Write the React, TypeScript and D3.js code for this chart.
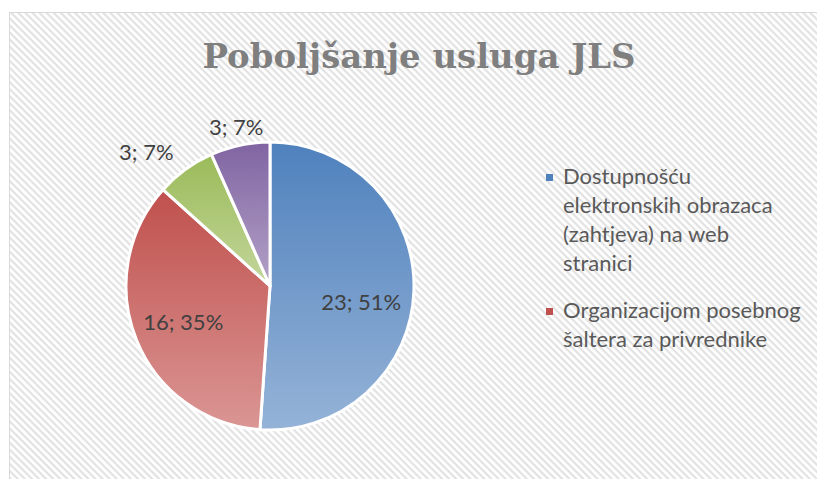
import React from "react";
import * as d3 from "d3";

const categories = [
  "Dostupnošću elektronskih obrazaca (zahtjeva) na web stranici",
  "Organizacijom posebnog šaltera za privrednike",
  "Ostalo 1",
  "Ostalo 2",
];
const values = [23, 16, 3, 3];
const percents = ["51%", "35%", "7%", "7%"];
const legendLines = [
  ["Dostupnošću", "elektronskih obrazaca", "(zahtjeva) na web", "stranici"],
  ["Organizacijom posebnog", "šaltera za privrednike"],
];
const colorsTop = ["#4f81bd", "#c0504d", "#9bbb59", "#8064a2"];
const colorsBottom = ["#95b3d7", "#da9694", "#c3d69b", "#b3a2c7"];
const title = "Poboljšanje usluga JLS";

export default function App() {
  const W = 817, H = 479;
  const cx = 270, cy = 286, r = 144;
  const pie = d3.pie<number>().sort(null).startAngle(0).endAngle(2 * Math.PI);
  const arcs = pie(values);
  const arc = d3.arc<d3.PieArcDatum<number>>().innerRadius(0).outerRadius(r);
  const labelFont = "Lato, 'Open Sans', sans-serif";
  const inside = d3.arc<d3.PieArcDatum<number>>().innerRadius(r * 0.62).outerRadius(r * 0.62);
  const outside = d3.arc<d3.PieArcDatum<number>>().innerRadius(r * 1.13).outerRadius(r * 1.13);
  return (
    <svg width={W} height={H} style={{ position: "absolute", left: 0, top: 0 }}>
      <defs>
        <pattern id="hatch" width="5" height="5" patternUnits="userSpaceOnUse" patternTransform="rotate(45)">
          <rect width="5" height="5" fill="#ffffff" />
          <rect width="5" height="2.2" fill="#e2e2e2" />
        </pattern>
        {colorsTop.map((c, i) => (
          <linearGradient key={i} id={"g" + i} x1="0" y1="0" x2="0" y2="1">
            <stop offset="0" stopColor={c} />
            <stop offset="1" stopColor={colorsBottom[i]} />
          </linearGradient>
        ))}
      </defs>
      <rect x={0} y={0} width={W} height={H} fill="#ffffff" />
      <rect x={9.5} y={12.5} width={W} height={H} fill="url(#hatch)" stroke="#d9d9d9" strokeWidth={1} />
      <text
        x={419}
        y={68}
        textAnchor="middle"
        fontFamily="'DejaVu Serif', 'Liberation Serif', serif"
        fontWeight="bold"
        fontSize={34}
        fill="#7f7f7f"
        textLength={433}
        lengthAdjust="spacingAndGlyphs"
      >
        {title}
      </text>
      <g transform={`translate(${cx},${cy})`}>
        {arcs.map((a, i) => (
          <path key={i} d={arc(a) || ""} fill={`url(#g${i})`} stroke="#ffffff" strokeWidth={3} strokeLinejoin="round" />
        ))}
        {arcs.map((a, i) => {
          const small = values[i] / d3.sum(values) < 0.1;
          let [x, y] = small ? outside.centroid(a) : inside.centroid(a);
          if (i === 0) { x += 2; y += 13; }
          if (i === 1) { x -= 4; y += 3; }
          if (i === 2) { x -= 28; y -= 2; }
          return (
            <text key={"l" + i} x={x} y={y} dy="0.35em" textAnchor="middle" fontFamily={labelFont} fontSize={22} fill="#404040">
              {`${values[i]}; ${percents[i]}`}
            </text>
          );
        })}
      </g>
      {legendLines.map((lines, i) => {
        const y0 = i === 0 ? 184 : 318;
        return (
          <g key={"lg" + i}>
            <rect x={546} y={y0 - 10} width={7} height={7} fill={colorsTop[i]} />
            {lines.map((t, j) => (
              <text key={j} x={563} y={y0 + j * 29} fontFamily={labelFont} fontSize={22} fill="#595959">
                {t}
              </text>
            ))}
          </g>
        );
      })}
    </svg>
  );
}
